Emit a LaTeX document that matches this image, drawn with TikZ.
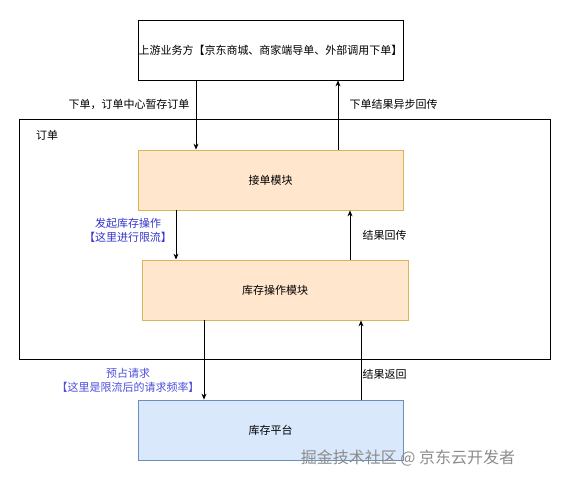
\documentclass[tikz,border=0pt]{standalone}
\usepackage{fontspec}
\setmainfont{Noto Sans CJK SC}
\usepackage{tikz}
\usetikzlibrary{arrows.meta}

\definecolor{peach}{HTML}{FFE6CC}
\definecolor{peachline}{HTML}{D6B656}
\definecolor{skyfill}{HTML}{DAE8FC}
\definecolor{skyline}{HTML}{6C8EBF}
\definecolor{notedark}{HTML}{3333CC}
\definecolor{notelight}{HTML}{4D4DDD}

\tikzset{
  box/.style={draw, line width=0.8pt, minimum width=265pt, minimum height=60pt, inner sep=0pt},
  module/.style={box, fill=peach, draw=peachline},
  platformbox/.style={box, fill=skyfill, draw=skyline},
  flow/.style={-{Stealth[length=6pt,width=5pt]}, line width=0.8pt},
  lbl/.style={font=\fontsize{11}{14}\selectfont, inner sep=0pt, align=center},
}

\begin{document}
\begin{tikzpicture}[x=1pt, y=-1pt, font=\fontsize{11}{14}\selectfont]
        \useasboundingbox (0,0) rectangle (571,481);
        \node[draw, line width=0.8pt, minimum width=531pt, minimum height=240pt] (order) at (284.5,239) {};
        \node[lbl, anchor=west] (orderlbl) at (36,135) {订单};
        \node[box, font=\fontsize{11}{14}\selectfont] (upstream) at (270.5,50) {上游业务方【京东商城、商家端导单、外部调用下单】};
        \node[module] (recv)     at (270.5,180) {接单模块};
        \node[module, minimum width=266pt] (stock) at (275,290) {库存操作模块};
        \node[platformbox] (platform) at (270.5,430) {库存平台};
        %% labels on the connectors
        \node[lbl] (l1) at (129,104) {下单，订单中心暂存订单};
        \node[lbl] (l2) at (393.5,104) {下单结果异步回传};
        \node[lbl, text=notedark] (l3) at (128,230) {发起库存操作\\【这里进行限流】};
        \node[lbl] (l4) at (384.5,235) {结果回传};
        \node[lbl, text=notelight] (l5) at (128,380) {预占请求\\【这里是限流后的请求频率】};
        \node[lbl] (l6) at (384.5,374) {结果返回};
        \draw[flow] ([xshift=-74.5pt]upstream.south) -- ([xshift=-74.5pt]recv.north);
        \draw[flow] ([xshift=67.5pt]recv.north) -- ([xshift=67.5pt]upstream.south);
        \draw[flow] ([xshift=-94.5pt]recv.south) -- ([xshift=-99pt]stock.north);
        \draw[flow] ([xshift=75pt]stock.north) -- ([xshift=79.5pt]recv.south);
        \draw[flow] ([xshift=-71pt]stock.south) -- ([xshift=-66.5pt]platform.north);
        \draw[flow] ([xshift=90.5pt]platform.north) -- ([xshift=86pt]stock.south);
        \node[inner sep=0pt, text=black!45, font=\fontsize{16}{18}\selectfont] (mark) at (408,458) {掘金技术社区 @ 京东云开发者};
\end{tikzpicture}
\end{document}
